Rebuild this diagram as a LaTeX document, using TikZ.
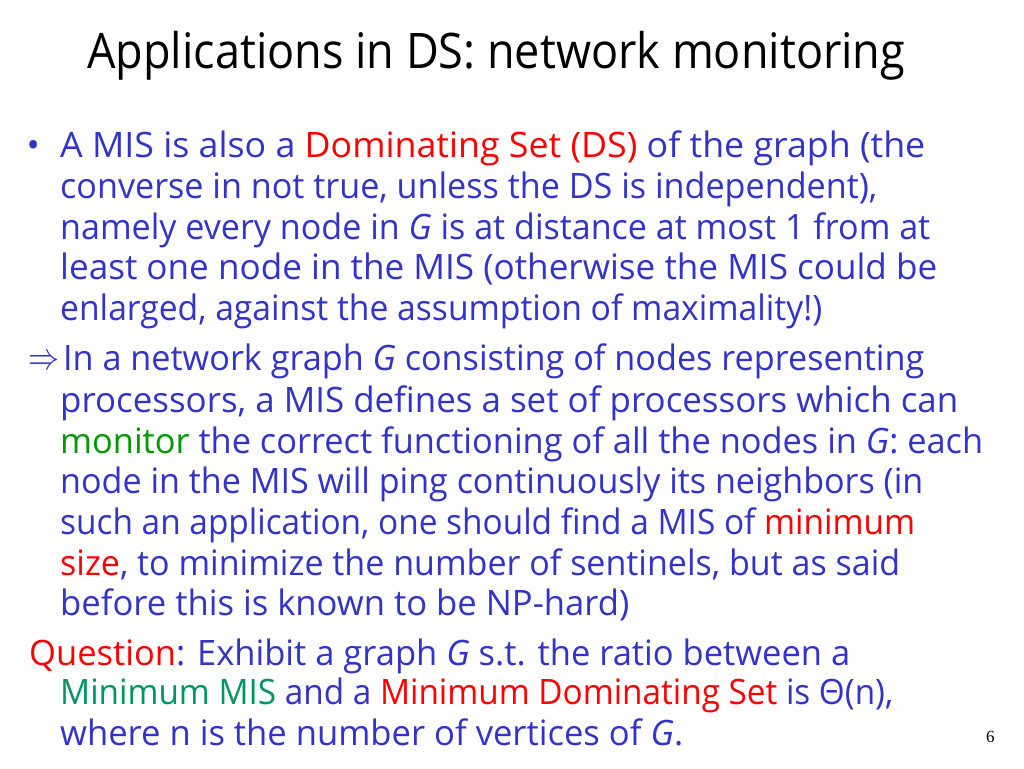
\documentclass[tikz,border=0pt]{standalone}
\usepackage{fontspec}
\usepackage{graphicx}
\setmainfont{Open Sans}
\newfontfamily\pgnumfont{Liberation Serif}
\definecolor{txtblue}{RGB}{51,51,204}
\definecolor{txtred}{RGB}{255,0,0}
\definecolor{monigreen}{RGB}{0,153,0}
\definecolor{misgreen}{RGB}{0,150,100}
\newcommand{\fitline}[2]{\resizebox{#1pt}{\height}{#2}}
\newcommand{\rd}[1]{\textcolor{txtred}{#1}}
\tikzset{
  body/.style={anchor=base west, inner sep=0pt, text=txtblue, font=\fontsize{35}{40}\selectfont},
  ttl/.style={anchor=base west, inner sep=0pt, text=black, font=\fontsize{49}{56}\selectfont},
}
\begin{document}
\begin{tikzpicture}[x=1pt,y=-1pt]
\useasboundingbox[fill=white] (0,0) rectangle (1024,768);
\node[ttl] (title) at (87,68) {\fitline{818}{Applications in DS: network monitoring}};
\node[body] (bul) at (26.5,157) {•};
\node[body] (l1) at (60,157) {\fitline{865}{A MIS is also a \rd{Dominating Set (DS)} of the graph (the}};
\node[body] (l2) at (60,198) {\fitline{817}{converse in not true, unless the DS is independent),}};
\node[body] (l3) at (60,239) {\fitline{870}{namely every node in \textit{G} is at distance at most 1 from at}};
\node[body] (l4) at (60,279) {\fitline{877}{least one node in the MIS (otherwise the MIS could be}};
\node[body] (l5) at (60,320) {\fitline{762}{enlarged, against the assumption of maximality!)}};
\node[body] (arr) at (28,369) {\resizebox{31pt}{14pt}{$\Rightarrow$}};
\node[body] (l6) at (63,370) {\fitline{861}{In a network graph \textit{G} consisting of nodes representing}};
\node[body] (l7) at (60,412) {\fitline{898}{processors, a MIS defines a set of processors which can}};
\node[body] (l8) at (60,453) {\fitline{923}{\textcolor{monigreen}{monitor} the correct functioning of all the nodes in \textit{G}: each}};
\node[body] (l9) at (60,493) {\fitline{863}{node in the MIS will ping continuously its neighbors (in}};
\node[body] (l10) at (60,534) {\fitline{855}{such an application, one should find a MIS of \rd{minimum}}};
\node[body] (l11) at (60,575) {\fitline{840}{\rd{size}, to minimize the number of sentinels, but as said}};
\node[body] (l12) at (60,615) {\fitline{569}{before this is known to be NP-hard)}};
\node[body] (l13) at (29,665) {\fitline{821}{\rd{Question}: Exhibit a graph \textit{G} s.t. the ratio between a}};
\node[body] (l14) at (60,704) {\fitline{833}{\textcolor{misgreen}{Minimum MIS} and a \rd{Minimum Dominating Set} is Θ(n),}};
\node[body] (l15) at (60,745) {\fitline{623}{where n is the number of vertices of \textit{G}.}};
\node[anchor=base west, inner sep=0pt, font=\pgnumfont\fontsize{17}{20}\selectfont] (pg) at (986,742) {6};
\end{tikzpicture}
\end{document}
